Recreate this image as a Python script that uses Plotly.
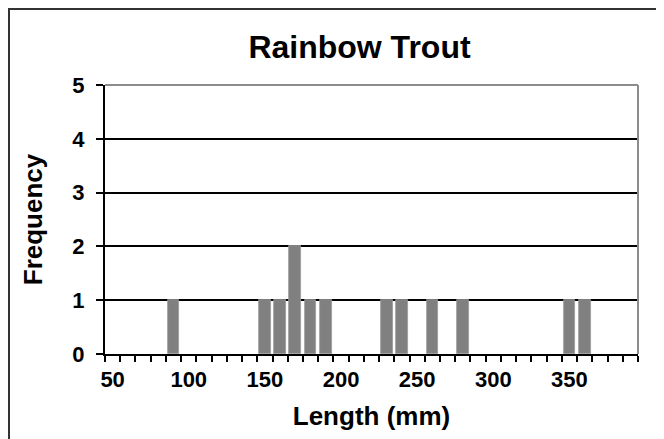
import plotly.graph_objects as go

# Data
lengths_mm = [90, 150, 160, 170, 180, 190, 230, 240, 260, 280, 350, 360]
frequency = [1, 1, 1, 2, 1, 1, 1, 1, 1, 1, 1, 1]
x_tick_labels = [50, 100, 150, 200, 250, 300, 350]
y_tick_labels = [0, 1, 2, 3, 4, 5]

# page body has an 8px margin; the figure starts at (8, 8) in the window
OFF = 8
W, H = 664 - OFF, 439 - OFF
ML, MR, MT, MB = 105 - OFF, 26, 85 - OFF, 85
PW = W - ML - MR
PH = H - MT - MB

def px_x(p):  # window pixel -> paper x
    return (p - OFF - ML) / PW

def px_y(p):  # window pixel -> paper y
    return (H - MB - (p - OFF)) / PH

FONT = "Liberation Sans"

fig = go.Figure()
fig.add_trace(go.Bar(
    x=lengths_mm, y=frequency, width=7.7,
    marker=dict(color="#808080", line=dict(color="#9a9a9a", width=0.8)),
    showlegend=False,
))

fig.update_layout(
    width=W, height=H,
    margin=dict(l=ML, r=MR, t=MT, b=MB),
    paper_bgcolor="white", plot_bgcolor="white",
    font=dict(family=FONT, color="black"),
    title=dict(text="<b>Rainbow Trout</b>", x=(359.5 - OFF) / W, xref="container", xanchor="center",
               y=1 - (47 - OFF) / H, yref="container", yanchor="middle",
               font=dict(size=32, family=FONT, color="black")),
    bargap=0,
)

fig.update_xaxes(
    range=[45, 395],
    tickvals=x_tick_labels,
    ticktext=[f"<b>{v}</b>" for v in x_tick_labels],
    ticks="", ticklabelstandoff=5,
    tickfont=dict(size=22, family=FONT, color="black"),
    showgrid=False, zeroline=False,
    showline=True, linecolor="black", linewidth=2,
    minor=dict(ticks="outside", tick0=45, dtick=10, ticklen=6, tickwidth=1.5,
               tickcolor="black", showgrid=False),
    title=dict(text="<b>Length (mm)</b>", font=dict(size=26, family=FONT, color="black"),
               standoff=15),
)

fig.update_yaxes(
    range=[0, 5],
    tickvals=y_tick_labels,
    ticktext=[f"<b>{v}</b>" for v in y_tick_labels],
    ticks="outside", ticklen=7, tickwidth=1.5, tickcolor="black",
    ticklabelstandoff=7,
    tickfont=dict(size=22, family=FONT, color="black"),
    showgrid=True, gridcolor="black", gridwidth=1.5,
    zeroline=False,
    showline=True, linecolor="black", linewidth=2,
    title=dict(text="<b>Frequency</b>", font=dict(size=26, family=FONT, color="black"),
               standoff=22),
)

# plot-area border (top & right) in gray
fig.add_shape(type="line", xref="paper", yref="paper", x0=0, x1=1, y0=1, y1=1,
              line=dict(color="#8c8c8c", width=2), layer="above")
fig.add_shape(type="line", xref="paper", yref="paper", x0=1, x1=1, y0=0, y1=1,
              line=dict(color="#8c8c8c", width=2), layer="above")

# outer chart border (partly cut off at right and bottom)
fig.add_shape(type="rect", xref="paper", yref="paper",
              x0=px_x(9), x1=px_x(680), y0=px_y(460), y1=px_y(9),
              line=dict(color="#333333", width=2), fillcolor="rgba(0,0,0,0)", layer="above")

fig.write_html("out.html")
